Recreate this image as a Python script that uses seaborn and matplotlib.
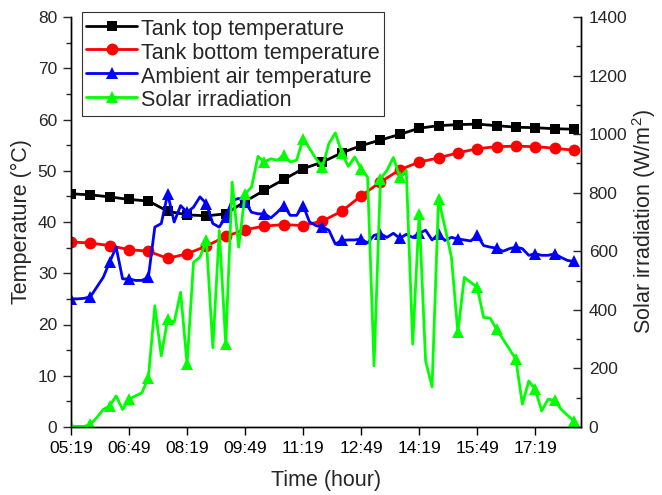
import numpy as np
import pandas as pd
import matplotlib
matplotlib.use("Agg")
import matplotlib.pyplot as plt
import seaborn as sns

# ---------------- data ----------------
# time in minutes after 05:19 (temperatures every 30 min, ambient/solar every 10 min)
t30 = list(range(0, 781, 30))
t10 = list(range(0, 781, 10))

tank_top = [45.5, 45.3, 44.9, 44.4, 44.1, 42.1, 41.4, 41.2, 41.6, 44.0, 46.2, 48.3, 50.4,
            51.7, 53.5, 54.9, 56.0, 57.1, 58.3, 58.8, 59.0, 59.1, 58.8, 58.5, 58.4, 58.2, 58.1]
tank_bottom = [36.1, 35.9, 35.4, 34.6, 34.3, 32.9, 33.8, 35.3, 37.2, 38.5, 39.2, 39.5, 39.3,
               40.2, 42.1, 45.1, 47.8, 50.2, 51.7, 52.5, 53.5, 54.3, 54.7, 54.8, 54.7, 54.4, 54.0]
ambient = [25.0, 25.0, 25.1, 25.4, 27.3, 29.2, 32.2, 35.1, 28.9, 28.9, 28.6, 28.6, 29.2,
           39.0, 39.7, 45.5, 40.0, 43.2, 41.9, 42.9, 44.9, 43.6, 39.7, 39.0, 41.0, 44.2, 44.6,
           43.9, 41.9, 41.6, 41.6, 40.8, 41.9, 43.2, 41.3, 41.3, 43.2, 40.0, 39.3, 39.0,
           38.4, 35.7, 36.4, 36.5, 36.5, 36.7, 35.9, 37.4, 37.7, 37.0, 37.8, 36.8,
           37.6, 37.0, 37.8, 38.4, 36.5, 37.6, 36.4, 37.0, 36.7, 36.5, 36.3, 37.4, 35.4,
           35.1, 34.9, 34.3, 34.8, 35.1, 34.8, 33.5, 33.8, 33.5, 33.5, 33.8, 33.1, 32.5, 32.3]
solar = [2, 2, 2, 9, 32, 60, 72, 106, 60, 95, 106, 117, 169, 414, 243, 369, 357, 460, 215,
         562, 580, 637, 271, 671, 283, 836, 614,
         796, 819, 924, 905, 916, 911, 928, 905, 911, 985, 951, 916, 888, 968, 1004, 936,
         890, 922, 882, 853, 209, 848, 876, 920, 853,
         876, 283, 728, 226, 137, 779, 682, 580, 323, 511, 494, 477, 374, 372, 334, 300,
         266, 231, 78, 157, 129, 55, 95, 91, 61, 40, 21]

tick_minutes = [0, 90, 180, 270, 360, 450, 540, 630, 720]
tick_labels = ["05:19", "06:49", "08:19", "09:49", "11:19", "12:49", "14:19", "15:49", "17:19"]

df30 = pd.DataFrame({"t": t30, "top": tank_top, "bottom": tank_bottom})
df10 = pd.DataFrame({"t": t10, "amb": ambient, "solar": solar})

# ---------------- style ----------------
sns.set_theme(style="ticks")
plt.rcParams["font.family"] = ["Liberation Sans", "DejaVu Sans"]
plt.rcParams["axes.linewidth"] = 1.0

fig = plt.figure(figsize=(6.62, 4.95), dpi=100)
ax = fig.add_axes([71 / 662, 1 - 427 / 495, (581 - 71) / 662, (427 - 17) / 495])
ax2 = ax.twinx()

lw = 2.0
sns.lineplot(data=df30, x="t", y="top", ax=ax, color="black", lw=lw, marker="s",
             markersize=7, markeredgewidth=0, label="Tank top temperature", legend=False)
sns.lineplot(data=df30, x="t", y="bottom", ax=ax, color="#ff0000", lw=lw, marker="o",
             markersize=8.5, markeredgewidth=0, label="Tank bottom temperature", legend=False)
sns.lineplot(data=df10, x="t", y="amb", ax=ax, color="#0000ff", lw=lw, marker="^",
             markersize=9, markeredgewidth=0, markevery=3,
             label="Ambient air temperature", legend=False)
sns.lineplot(data=df10, x="t", y="solar", ax=ax2, color="#00ff00", lw=lw, marker="^",
             markersize=9, markeredgewidth=0, markevery=3,
             label="Solar irradiation", legend=False)

ax.set_xlim(0, 791)
ax.set_ylim(0, 80)
ax2.set_ylim(0, 1400)

ax.set_xticks(tick_minutes)
ax.set_xticklabels(tick_labels)
ax.set_yticks(range(0, 81, 10))
ax.set_yticks(range(5, 80, 10), minor=True)
ax2.set_yticks(range(0, 1401, 200))
ax2.set_yticks(range(100, 1400, 200), minor=True)

for a in (ax, ax2):
    a.spines["top"].set_visible(False)
    for s in a.spines.values():
        s.set_color("black")
        s.set_linewidth(1.0)

ax.tick_params(axis="x", direction="out", length=6, width=1, labelsize=12.5, pad=4, colors="black")
ax.tick_params(axis="y", which="major", direction="out", length=6, width=1, labelsize=12.5, pad=4)
ax.tick_params(axis="y", which="minor", direction="out", length=3.5, width=1)
ax2.tick_params(axis="y", which="major", direction="in", length=6, width=1, labelsize=12.5, pad=5.5)
ax2.tick_params(axis="y", which="minor", direction="in", length=3.5, width=1)

ax.set_xlabel("Time (hour)", fontsize=15.5, labelpad=10)
ax.set_ylabel("Temperature (\u00b0C)", fontsize=15.5, labelpad=4)
ax2.set_ylabel("Solar irradiation (W/m$^\\mathregular{2}$)", fontsize=15.5, labelpad=2)

h1, l1 = ax.get_legend_handles_labels()
h2, l2 = ax2.get_legend_handles_labels()
leg = ax2.legend(h1 + h2, l1 + l2, loc="upper left",
                 bbox_to_anchor=(82 / 662, 1 - 12 / 495), bbox_transform=fig.transFigure,
                 borderaxespad=0, fontsize=15.5, frameon=True, fancybox=False,
                 handlelength=2.35, handleheight=1.27, handletextpad=0.2, labelspacing=0.0,
                 borderpad=0.2, framealpha=1, edgecolor="#333333")
leg.get_frame().set_linewidth(0.8)

fig.savefig("out.png", dpi=100)
